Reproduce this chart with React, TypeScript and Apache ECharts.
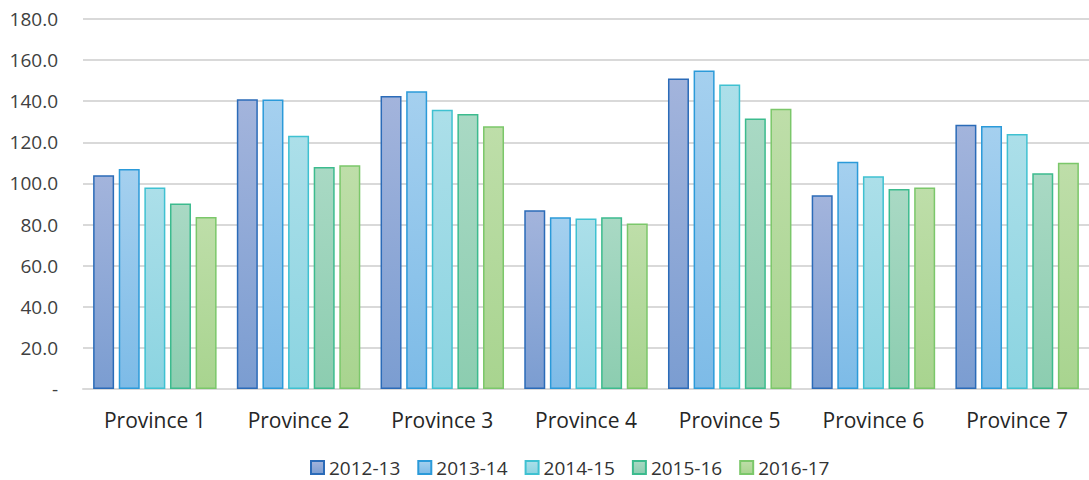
import React, { useEffect, useRef } from "react";
import * as echarts from "echarts";

const categories = ["Province 1", "Province 2", "Province 3", "Province 4", "Province 5", "Province 6", "Province 7"];
const seriesNames = ["2012-13", "2013-14", "2014-15", "2015-16", "2016-17"];
const s2012 = [104.0, 141.0, 142.6, 87.0, 151.1, 94.3, 128.6];
const s2013 = [107.0, 140.8, 144.9, 83.5, 155.0, 110.5, 128.0];
const s2014 = [98.0, 123.2, 135.8, 83.0, 148.1, 103.5, 124.0];
const s2015 = [90.2, 108.0, 133.8, 83.5, 131.6, 97.3, 105.0];
const s2016 = [83.7, 108.9, 127.8, 80.5, 136.3, 98.0, 110.1];
const allData = [s2012, s2013, s2014, s2015, s2016];

const topColors = ["#a3b4dc", "#a5d0ef", "#acdfe9", "#a9d9c4", "#bedea9"];
const bottomColors = ["#7b9dd1", "#7dbbe7", "#8bd4e1", "#8ccdb0", "#a8d48f"];
const borderColors = ["#2b6bb8", "#2b9ad9", "#3fc1d1", "#3cbb8e", "#7bc76a"];

export default function App() {
  const ref = useRef<HTMLDivElement>(null);
  useEffect(() => {
    if (!ref.current) return;
    const chart = echarts.init(ref.current, null, { renderer: "svg" });
    const font = "'Open Sans', 'Noto Sans', sans-serif";
    chart.setOption({
      animation: false,
      grid: { left: 83, right: 0, top: 19, bottom: 91, containLabel: false },
      legend: {
        left: 310,
        top: 458,
        padding: 0,
        itemWidth: 13,
        itemHeight: 13,
        itemGap: 17,
        icon: "rect",
        textStyle: { fontFamily: font, fontSize: 19, lineHeight: 19, color: "#333333" },
        data: seriesNames,
      },
      xAxis: {
        type: "category",
        data: categories,
        axisLine: { show: true, lineStyle: { color: "#d9d9d9", width: 2 } },
        axisTick: { show: false },
        axisLabel: { fontFamily: font, fontSize: 21, color: "#262626", margin: 20 },
      },
      yAxis: {
        type: "value",
        min: 0,
        max: 180,
        interval: 20,
        axisLine: { show: false },
        axisTick: { show: false },
        splitLine: { lineStyle: { color: "#d9d9d9", width: 2 } },
        axisLabel: {
          fontFamily: font,
          fontSize: 19,
          color: "#404040",
          margin: 25,
          formatter: (v: number) => (v === 0 ? "-" : v.toFixed(1)),
        },
      },
      series: seriesNames.map((name, i) => ({
        name,
        type: "bar",
        data: allData[i],
        barWidth: 21,
        barGap: "22%",
        itemStyle: {
          color: new echarts.graphic.LinearGradient(0, 0, 0, 1, [
            { offset: 0, color: topColors[i] },
            { offset: 1, color: bottomColors[i] },
          ]),
          borderColor: borderColors[i],
          borderWidth: 1.5,
        },
      })),
    });
    return () => chart.dispose();
  }, []);
  return <div ref={ref} style={{ width: 1089, height: 480, position: "absolute", left: 0, top: 0 }} />;
}
